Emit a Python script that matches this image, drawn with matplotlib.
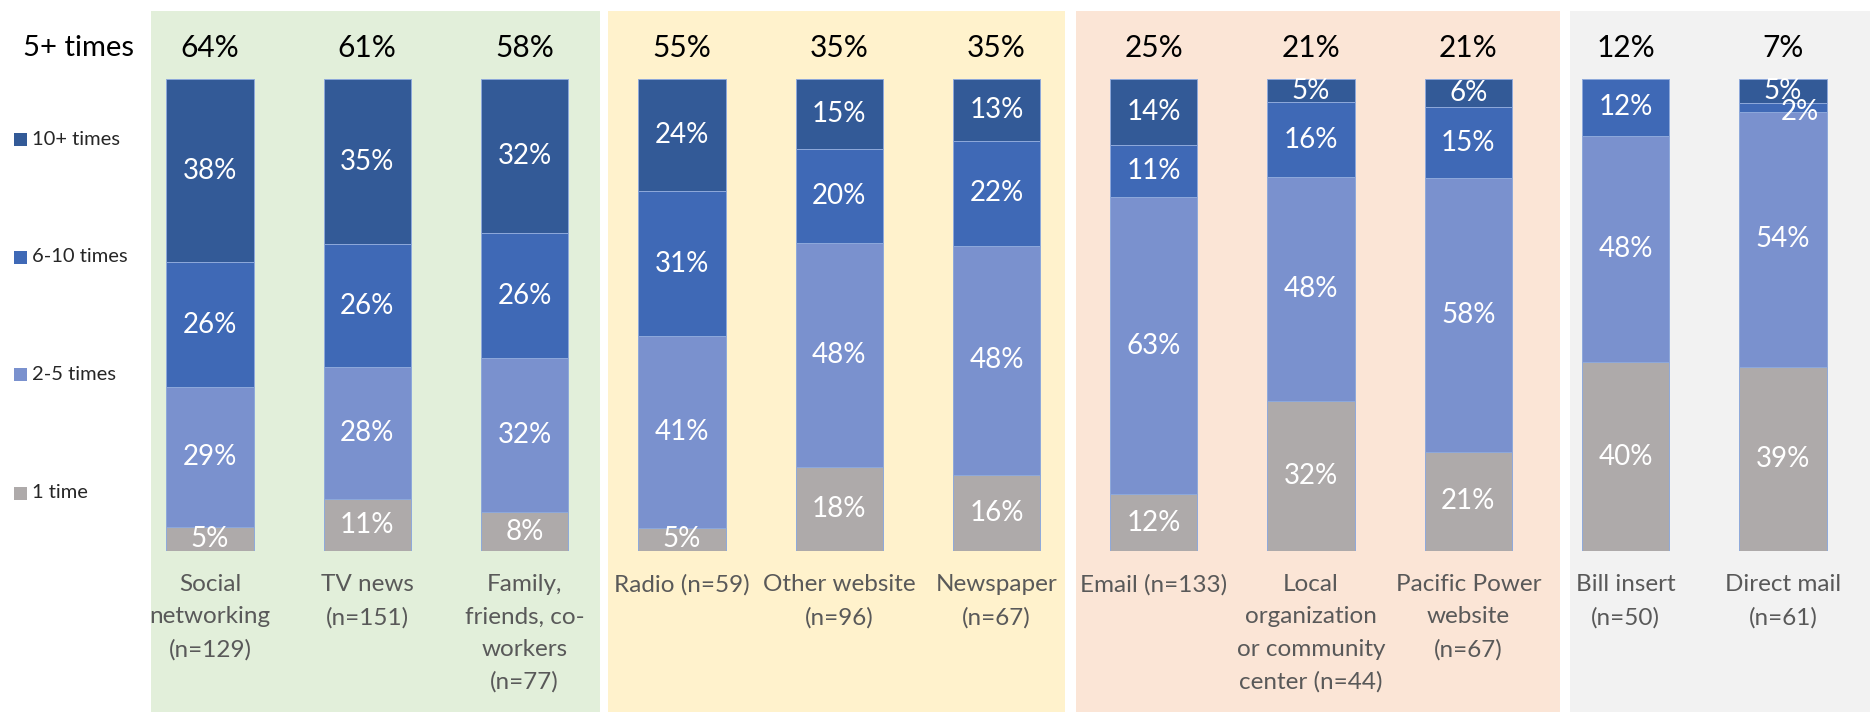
import numpy as np
import matplotlib
matplotlib.use("Agg")
import matplotlib.pyplot as plt
from matplotlib.patches import Rectangle
import matplotlib.transforms as mtransforms

plt.rcParams['font.family'] = ['Lato', 'DejaVu Sans']

categories = ["Social\nnetworking\n(n=129)", "TV news\n(n=151)",
              "Family,\nfriends, co-\nworkers\n(n=77)", "Radio (n=59)",
              "Other website\n(n=96)", "Newspaper\n(n=67)", "Email (n=133)",
              "Local\norganization\nor community\ncenter (n=44)",
              "Pacific Power\nwebsite\n(n=67)", "Bill insert\n(n=50)",
              "Direct mail\n(n=61)"]

# shares per channel, bottom segment first
one_time = [5, 11, 8, 5, 18, 16, 12, 32, 21, 40, 39]
two_five = [29, 28, 32, 41, 48, 48, 63, 48, 58, 48, 54]
six_ten = [26, 26, 26, 31, 20, 22, 11, 16, 15, 12, 2]
ten_plus = [38, 35, 32, 24, 15, 13, 14, 5, 6, 0, 5]
five_plus = [64, 61, 58, 55, 35, 35, 25, 21, 21, 12, 7]

series = [("1 time", one_time, "#AEAAAA"),
          ("2-5 times", two_five, "#7A91CE"),
          ("6-10 times", six_ten, "#3F69B6"),
          ("10+ times", ten_plus, "#335A97")]

# background groups: (x from, x to, colour) in category units
groups = [(-0.375, 2.479, "#E2EFDA"), (2.530, 5.435, "#FFF2CC"),
          (5.505, 8.582, "#FBE5D6"), (8.646, 10.6, "#F2F2F2")]

fig = plt.figure(figsize=(18.7, 7.12), dpi=100)
ax = fig.add_axes([131.35 / 1870, 161 / 712, 1730.3 / 1870, 472 / 712])
ax.set_xlim(-0.5, 10.5)
ax.set_ylim(0, 100)
ax.axis("off")

trans = mtransforms.blended_transform_factory(ax.transData, fig.transFigure)
for x0, x1, col in groups:
    ax.add_patch(Rectangle((x0, 0), x1 - x0, 701 / 712, transform=trans,
                           facecolor=col, edgecolor="none", zorder=0,
                           clip_on=False))

x = np.arange(len(categories))
totals = np.sum([s[1] for s in series], axis=0)
bottom = np.zeros(len(categories))
for name, vals, col in series:
    vals = np.array(vals, dtype=float)
    h = vals / totals * 100
    ax.bar(x, h, bottom=bottom, width=0.555, color=col,
           edgecolor="#8EA9DB", linewidth=0.7, zorder=2)
    for i in range(len(x)):
        if vals[i] == 0:
            continue
        dx, dy = 0, 0
        if name == "6-10 times" and i == 10:
            dx, dy = 0.105, -0.9
        ax.text(x[i] + dx, bottom[i] + h[i] / 2 + dy, f"{int(vals[i])}%",
                ha="center", va="center", color="white", fontsize=20,
                zorder=3)
    bottom += h

for i, v in enumerate(five_plus):
    ax.text(x[i], 106.6, f"{v}%", ha="center", va="center",
            fontsize=21.5, color="black", clip_on=False)
ax.text(-0.48, 106.6, "5+ times", ha="right", va="center", fontsize=21,
        color="black", clip_on=False)

for i, lab in enumerate(categories):
    ax.text(x[i], -4.9, lab, ha="center", va="top", fontsize=17.5,
            color="#595959", linespacing=1.66, clip_on=False)

# legend on the left, top entry first
legend_y = [139.5, 257, 374, 493]
for (name, vals, col), ypx in zip(series[::-1], legend_y):
    yf = (712 - ypx) / 712
    fig.patches.append(Rectangle((14 / 1870, yf - 6.5 / 712), 12.5 / 1870,
                                 13 / 712, transform=fig.transFigure,
                                 facecolor=col, edgecolor="none"))
    fig.text(32 / 1870, yf, name, ha="left", va="center", fontsize=14.5,
             color="#262626")

fig.savefig("out.png", dpi=100)
